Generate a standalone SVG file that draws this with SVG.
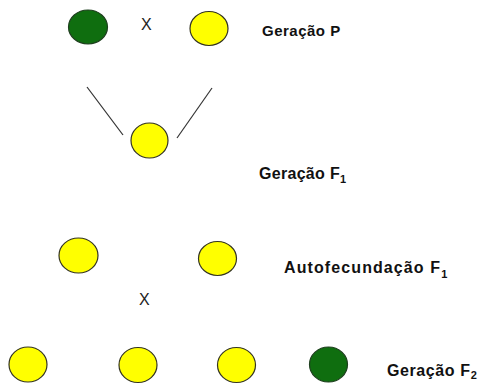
<svg xmlns="http://www.w3.org/2000/svg" width="485" height="385" viewBox="0 0 485 385">
  <style>
    .yellow { fill: #ffff00; stroke: #333322; stroke-width: 1.2; }
    .green { fill: #0f6e0f; stroke: #1f3f1f; stroke-width: 1.2; }
    .label { font-family: "Liberation Sans", Arial, sans-serif; font-weight: bold; font-size: 16px; letter-spacing: 0.6px; fill: #111; }
    .sub { font-size: 11px; letter-spacing: 0; }
    .cross { font-family: "Liberation Sans", Arial, sans-serif; font-size: 16px; fill: #222; }
    .link { stroke: #333; stroke-width: 1.2; fill: none; }
  </style>
  <rect width="485" height="385" fill="#ffffff"/>

  <!-- Parental generation -->
  <g id="p-green">
    <ellipse class="green" cx="88" cy="27" rx="19.5" ry="17"/>
  </g>
  <g id="p-cross">
    <text class="cross" x="141" y="30">X</text>
  </g>
  <g id="p-yellow">
    <ellipse class="yellow" cx="209" cy="28.5" rx="19" ry="17"/>
  </g>
  <g id="label-p">
    <text class="label" x="262" y="35.5" style="font-size:15px;letter-spacing:0.5px">Geração P</text>
  </g>

  <!-- Lines from parents to F1 -->
  <g id="connectors">
    <line class="link" x1="87" y1="87" x2="123" y2="135"/>
    <line class="link" x1="212" y1="88" x2="177" y2="138"/>
  </g>

  <!-- F1 generation -->
  <g id="f1">
    <ellipse class="yellow" cx="149.5" cy="140.5" rx="18.5" ry="17.5"/>
  </g>
  <g id="label-f1">
    <text class="label" x="259" y="179" style="letter-spacing:0.3px">Geração F<tspan class="sub" dy="4">1</tspan></text>
  </g>

  <!-- F1 self-fertilisation -->
  <g id="self-left">
    <ellipse class="yellow" cx="78.5" cy="255.5" rx="19.5" ry="17.5"/>
  </g>
  <g id="self-right">
    <ellipse class="yellow" cx="217.5" cy="258.5" rx="19" ry="17"/>
  </g>
  <g id="self-cross">
    <text class="cross" x="139" y="305">X</text>
  </g>
  <g id="label-self">
    <text class="label" x="284" y="273" style="letter-spacing:1.1px">Autofecundação F<tspan class="sub" dy="5">1</tspan></text>
  </g>

  <!-- F2 generation -->
  <g id="f2-1">
    <ellipse class="yellow" cx="28" cy="364.5" rx="19" ry="17.5"/>
  </g>
  <g id="f2-2">
    <ellipse class="yellow" cx="138" cy="365" rx="19" ry="17.5"/>
  </g>
  <g id="f2-3">
    <ellipse class="yellow" cx="236.5" cy="365" rx="19" ry="17.5"/>
  </g>
  <g id="f2-4">
    <ellipse class="green" cx="328.5" cy="364.5" rx="19" ry="17.5"/>
  </g>
  <g id="label-f2">
    <text class="label" x="387" y="376">Geração F<tspan class="sub" dy="3">2</tspan></text>
  </g>
</svg>
